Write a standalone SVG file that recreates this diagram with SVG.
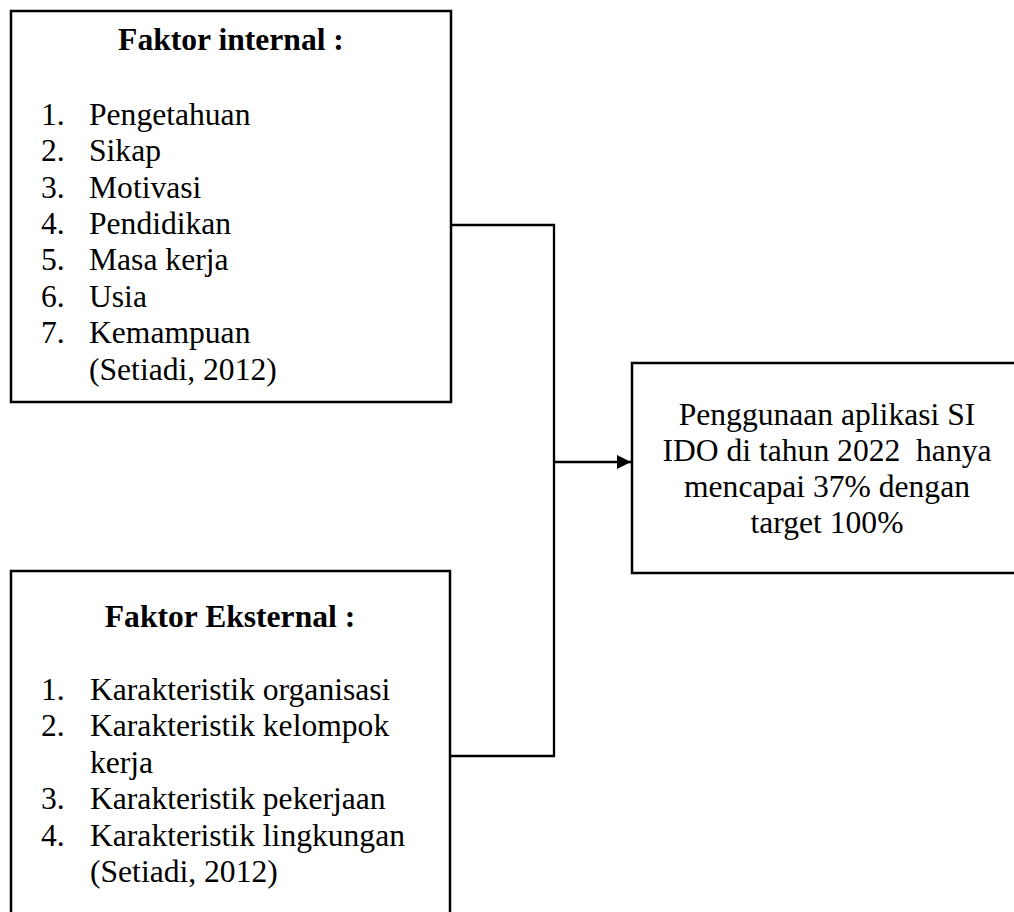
<svg xmlns="http://www.w3.org/2000/svg" width="1014" height="912" viewBox="0 0 1014 912">
<defs>
<style>
.box{fill:#fff;stroke:#000;stroke-width:2.5}
.t{font-family:"Liberation Serif","Times New Roman",serif;font-size:31.6px;fill:#000}
.b{font-weight:bold}
.m{text-anchor:middle}
.c{fill:none;stroke:#000;stroke-width:2.3}
</style>
<marker id="ah" viewBox="0 0 14 14" refX="14" refY="7" markerWidth="14" markerHeight="14" markerUnits="userSpaceOnUse" orient="auto">
<path d="M0,0 L14,7 L0,14 Z" fill="#000"/>
</marker>
</defs>
<rect width="1014" height="912" fill="#fff"/>
<g id="connectors">
<polyline class="c" points="451,225 554,225 554,756 451,756"/>
<line class="c" x1="554" y1="462" x2="631" y2="462" marker-end="url(#ah)"/>
</g>
<g id="internal">
<rect class="box" x="11" y="11" width="440" height="391"/>
<text class="t b m" x="231" y="50">Faktor internal :</text>
<text class="t" x="41" y="125">1.</text><text class="t" x="89" y="125">Pengetahuan</text>
<text class="t" x="41" y="161">2.</text><text class="t" x="89" y="161">Sikap</text>
<text class="t" x="41" y="197.5">3.</text><text class="t" x="89" y="197.5">Motivasi</text>
<text class="t" x="41" y="234">4.</text><text class="t" x="89" y="234">Pendidikan</text>
<text class="t" x="41" y="270">5.</text><text class="t" x="89" y="270">Masa kerja</text>
<text class="t" x="41" y="306.5">6.</text><text class="t" x="89" y="306.5">Usia</text>
<text class="t" x="41" y="343">7.</text><text class="t" x="89" y="343">Kemampuan</text>
<text class="t" x="89" y="379.5">(Setiadi, 2012)</text>
</g>
<g id="eksternal">
<rect class="box" x="11" y="571" width="439" height="360"/>
<text class="t b m" x="230" y="627">Faktor Eksternal :</text>
<text class="t" x="41" y="700">1.</text><text class="t" x="90" y="700">Karakteristik organisasi</text>
<text class="t" x="41" y="736.4">2.</text><text class="t" x="90" y="736.4">Karakteristik kelompok</text>
<text class="t" x="90" y="772.8">kerja</text>
<text class="t" x="41" y="809.2">3.</text><text class="t" x="90" y="809.2">Karakteristik pekerjaan</text>
<text class="t" x="41" y="845.6">4.</text><text class="t" x="90" y="845.6">Karakteristik lingkungan</text>
<text class="t" x="90" y="882">(Setiadi, 2012)</text>
</g>
<g id="hasil">
<rect class="box" x="632" y="363" width="390" height="210"/>
<text class="t m" x="827" y="425">Penggunaan aplikasi SI</text>
<text class="t m" x="827" y="461" xml:space="preserve">IDO di tahun 2022  hanya</text>
<text class="t m" x="827" y="497">mencapai 37% dengan</text>
<text class="t m" x="827" y="533">target 100%</text>
</g>
</svg>
